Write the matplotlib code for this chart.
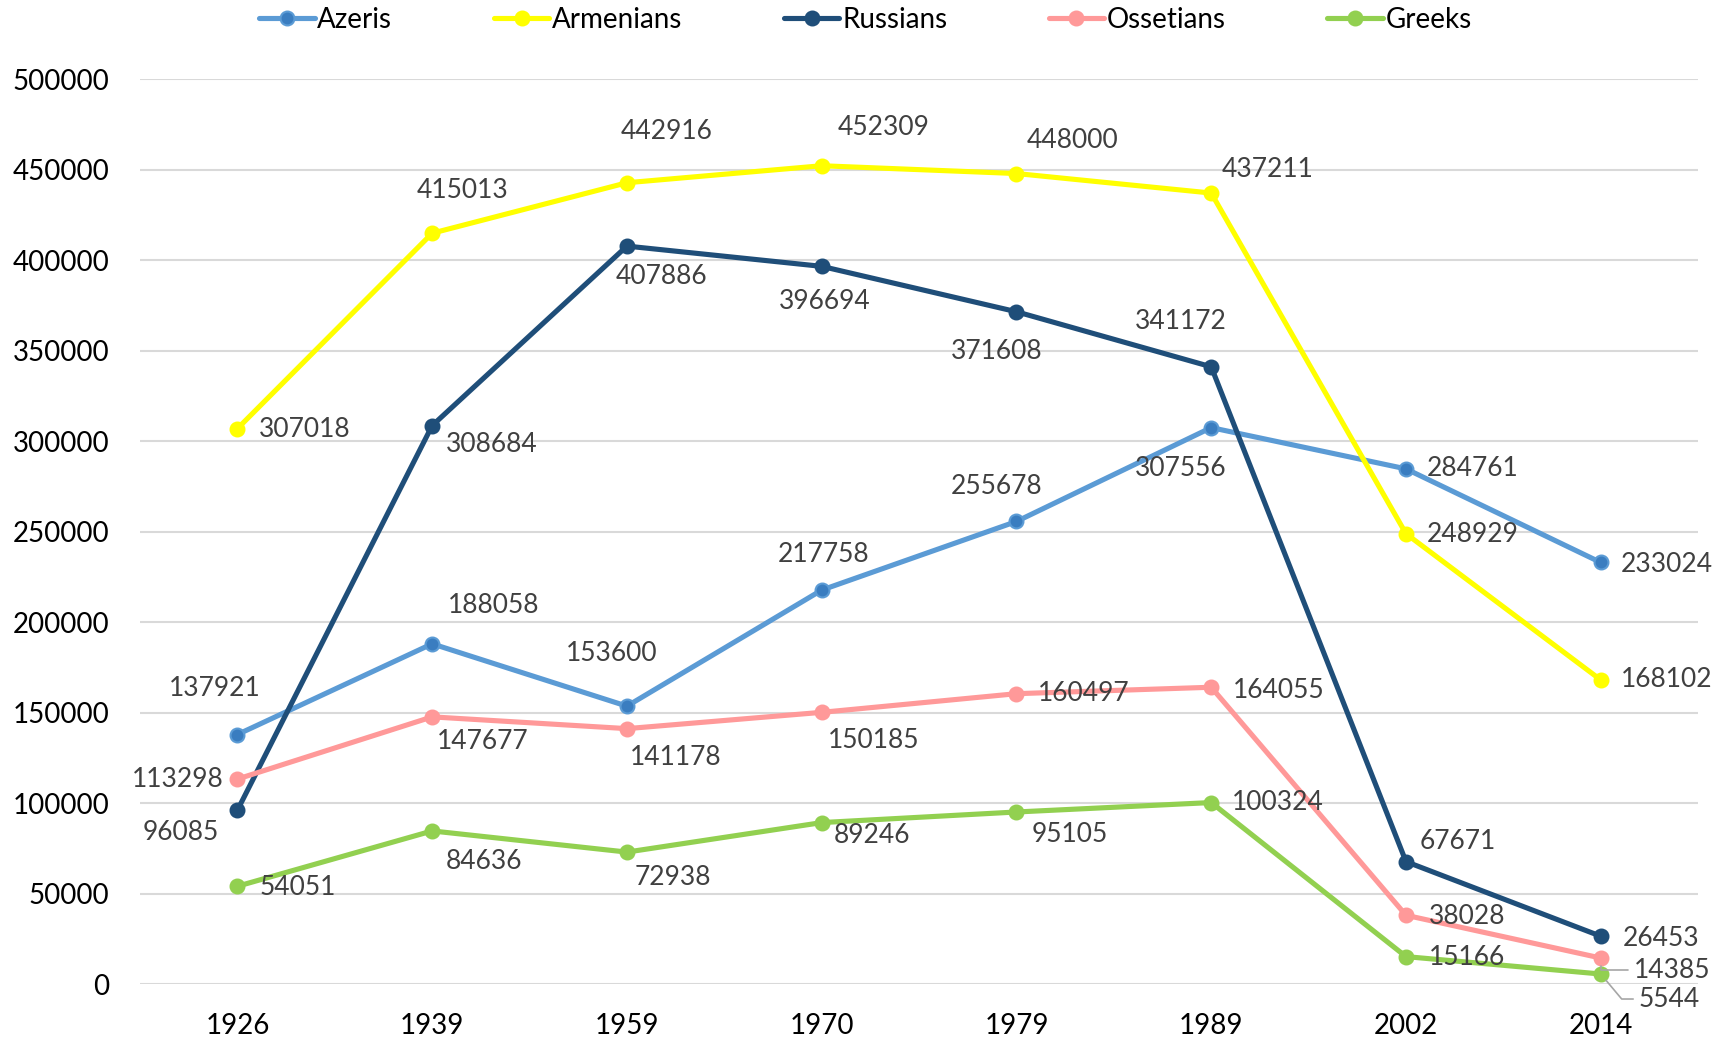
import matplotlib.pyplot as plt
import numpy as np

plt.rcParams['font.family'] = ['Lato', 'DejaVu Sans']

years = ['1926', '1939', '1959', '1970', '1979', '1989', '2002', '2014']
azeris = [137921, 188058, 153600, 217758, 255678, 307556, 284761, 233024]
armenians = [307018, 415013, 442916, 452309, 448000, 437211, 248929, 168102]
russians = [96085, 308684, 407886, 396694, 371608, 341172, 67671, 26453]
ossetians = [113298, 147677, 141178, 150185, 160497, 164055, 38028, 14385]
greeks = [54051, 84636, 72938, 89246, 95105, 100324, 15166, 5544]

series = [
    ('Azeris', azeris, '#5B9BD5', '#3A7DC0'),
    ('Armenians', armenians, '#FFFF00', '#FFFF00'),
    ('Russians', russians, '#1F4E79', '#1F4E79'),
    ('Ossetians', ossetians, '#FF9999', '#FF9999'),
    ('Greeks', greeks, '#92D050', '#92D050'),
]

# label offsets in pixels (dx, dy) per series/point
offsets = {
    'Azeris': [(-23, 46), (61, 38), (-15, 53), (2, 36), (-20, 35), (-31, -41), (67, 0), (66, -2)],
    'Armenians': [(67, -1), (30, 43), (40, 51), (62, 38), (56, 33), (56, 24), (67, -1), (66, 0)],
    'Russians': [(-57, -22), (60, -19), (35, -30), (3, -35), (-20, -40), (-30, 45), (52, 20), (60, -2)],
    'Ossetians': [(-60, 0), (51, -25), (49, -29), (52, -28), (67, 0), (67, -3), (61, -1), (63, -12)],
    'Greeks': [(60, -1), (52, -31), (46, -25), (50, -13), (53, -23), (67, 0), (61, -1), (68, -25)],
}

fig = plt.figure(figsize=(17.31, 10.40), dpi=100)
ax = fig.add_axes([0.0809, 0.0538, 0.9001, 0.8698])
x = np.arange(len(years))

for name, vals, color, mcolor in series:
    ax.plot(x, vals, color=color, lw=3.7, marker='o', ms=10,
            markerfacecolor=mcolor, markeredgecolor=color, markeredgewidth=1.5,
            label=name, zorder=3, solid_capstyle='round')
    for i, v in enumerate(vals):
        dx, dy = offsets[name][i]
        leader = (name, i) in [('Ossetians', 7), ('Greeks', 7)]
        if leader:
            cs = 'angle,angleA=0,angleB=90,rad=0' if name == 'Ossetians' else 'angle,angleA=0,angleB=-50,rad=0'
            ax.annotate(str(v), (i, v), xytext=(dx - 30, dy), textcoords='offset pixels',
                        ha='left', va='center', fontsize=19, color='#404040', zorder=4,
                        arrowprops=dict(arrowstyle='-', color='#A6A6A6', lw=1.2,
                                        connectionstyle=cs, relpos=(0, 0.5),
                                        shrinkA=2, shrinkB=6))
        else:
            ax.annotate(str(v), (i, v), xytext=(dx, dy), textcoords='offset pixels',
                        ha='center', va='center', fontsize=19, color='#404040', zorder=4)

ax.set_xlim(-0.5, len(years) - 0.5)
ax.set_ylim(0, 500000)
ax.set_xticks(x)
ax.set_xticklabels(years)
ax.set_yticks(range(0, 500001, 50000))
ax.tick_params(axis='both', length=0, labelsize=20, colors='black')
ax.tick_params(axis='x', pad=21)
ax.tick_params(axis='y', pad=22)
for s in ax.spines.values():
    s.set_visible(False)
ax.grid(axis='y', color='#D9D9D9', lw=1.5, zorder=0)
ax.set_axisbelow(True)

ax.legend(loc='center', bbox_to_anchor=(0.5, 0.981), bbox_transform=fig.transFigure,
          ncol=5, frameon=False, fontsize=20, handlelength=2.0, handletextpad=0.1,
          columnspacing=3.65)

plt.savefig('out.png', dpi=100)
plt.close()
